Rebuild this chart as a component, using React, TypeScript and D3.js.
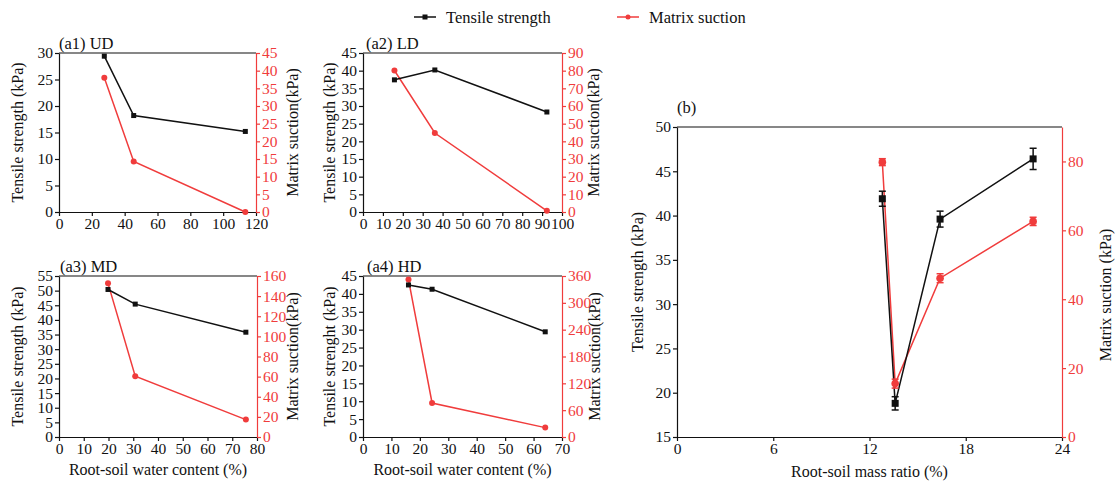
import { useEffect, useRef } from 'react'
import * as d3 from 'd3'

// ── Data ─────────────────────────────────────────────────────────────────────
const a1Water = [27.6, 45.5, 113.5]
const a1Tensile = [29.4, 18.2, 15.2]
const a1Suction = [38, 14.3, 0]

const a2Water = [15.8, 36.1, 92.4]
const a2Tensile = [37.4, 40.2, 28.3]
const a2Suction = [80.1, 44.7, 0.7]

const a3Water = [19.8, 30.8, 75.5]
const a3Tensile = [50.4, 45.4, 35.8]
const a3Suction = [152.7, 60.4, 17.3]

const a4Water = [16.0, 24.3, 64.1]
const a4Tensile = [42.5, 41.3, 29.4]
const a4Suction = [352, 76, 21]

const bRatio = [12.8, 13.6, 16.4, 22.2]
const bTensile = [41.9, 18.8, 39.6, 46.4]
const bTensileErr = [0.85, 0.75, 0.9, 1.2]
const bSuction = [79.8, 15.5, 46.1, 62.6]
const bSuctionErr = [1.0, 1.3, 1.3, 1.2]

const FONT = 'Liberation Serif, DejaVu Serif, serif'
const RED = '#f03c3c'
const BLACK = '#111'

type PanelCfg = {
  label: string
  box: [number, number, number, number] // x0, x1, y0, y1
  xDomain: [number, number]
  xTicks: number[]
  yDomain: [number, number]
  yTicks: number[]
  y2Domain: [number, number]
  y2Ticks: number[]
  xs: number[]
  tensile: number[]
  suction: number[]
  tensileErr?: number[]
  suctionErr?: number[]
  leftTitle: string
  rightTitle: string
  leftTitleX: number
  rightTitleX: number
  rightTitleY?: number
  xTitle?: string
  xTitleY?: number
  labelPos: [number, number]
  big?: boolean
}

const range = (a: number, b: number, s: number) => d3.range(a, b + s / 2, s)

const PANELS: PanelCfg[] = [
  {
    label: '(a1) UD', box: [59, 256, 53, 212],
    xDomain: [0, 120], xTicks: range(0, 120, 20),
    yDomain: [0, 30], yTicks: range(0, 30, 5),
    y2Domain: [0, 45], y2Ticks: range(0, 45, 5),
    xs: a1Water, tensile: a1Tensile, suction: a1Suction,
    leftTitle: 'Tensile strength (kPa)', rightTitle: 'Matrix suction(kPa)',
    leftTitleX: 17.5, rightTitleX: 292, labelPos: [59, 49],
  },
  {
    label: '(a2) LD', box: [363, 562, 53, 212],
    xDomain: [0, 100], xTicks: range(0, 100, 10),
    yDomain: [0, 45], yTicks: range(0, 45, 5),
    y2Domain: [0, 90], y2Ticks: range(0, 90, 10),
    xs: a2Water, tensile: a2Tensile, suction: a2Suction,
    leftTitle: 'Tensile strength (kPa)', rightTitle: 'Matrix suction(kPa)',
    leftTitleX: 329.5, rightTitleX: 593, labelPos: [366, 49],
  },
  {
    label: '(a3) MD', box: [59, 257, 276, 437],
    xDomain: [0, 80], xTicks: range(0, 80, 10),
    yDomain: [0, 55], yTicks: range(0, 55, 5),
    y2Domain: [0, 160], y2Ticks: range(0, 160, 20),
    xs: a3Water, tensile: a3Tensile, suction: a3Suction,
    leftTitle: 'Tensile strength (kPa)', rightTitle: 'Matrix suction(kPa)',
    leftTitleX: 17.5, rightTitleX: 292,
    xTitle: 'Root-soil water content (%)', xTitleY: 475, labelPos: [60, 272],
  },
  {
    label: '(a4) HD', box: [363, 562, 276, 437],
    xDomain: [0, 70], xTicks: range(0, 70, 10),
    yDomain: [0, 45], yTicks: range(0, 45, 5),
    y2Domain: [0, 360], y2Ticks: range(0, 360, 60),
    xs: a4Water, tensile: a4Tensile, suction: a4Suction,
    leftTitle: 'Tensile strenght (kPa)', rightTitle: 'Matrix suction(kPa)',
    leftTitleX: 329.5, rightTitleX: 594,
    xTitle: 'Root-soil water content (%)', xTitleY: 475, labelPos: [367, 272],
  },
  {
    label: '(b)', box: [677, 1062, 127, 437],
    xDomain: [0, 24], xTicks: range(0, 24, 6),
    yDomain: [15, 50], yTicks: range(15, 50, 5),
    y2Domain: [0, 90], y2Ticks: range(0, 80, 20),
    xs: bRatio, tensile: bTensile, suction: bSuction,
    tensileErr: bTensileErr, suctionErr: bSuctionErr,
    leftTitle: 'Tensile strength (kPa)', rightTitle: 'Matrix suction (kPa)',
    leftTitleX: 637, rightTitleX: 1105, rightTitleY: 295,
    xTitle: 'Root-soil mass ratio (%)', xTitleY: 477, labelPos: [677, 113], big: true,
  },
]

function drawPanel(svg: d3.Selection<SVGSVGElement, unknown, null, undefined>, p: PanelCfg) {
  const [x0, x1, y0, y1] = p.box
  const x = d3.scaleLinear().domain(p.xDomain).range([x0, x1])
  const y = d3.scaleLinear().domain(p.yDomain).range([y1, y0])
  const y2 = d3.scaleLinear().domain(p.y2Domain).range([y1, y0])
  const g = svg.append('g')
  const fs = 15.5

  // frame top
  g.append('line').attr('x1', x0).attr('x2', x1).attr('y1', y0).attr('y2', y0)
    .attr('stroke', BLACK).attr('stroke-width', 1.2)

  const styleAxis = (a: d3.Selection<SVGGElement, unknown, null, undefined>, color: string) => {
    a.attr('font-family', null).attr('font-size', null)
    a.select('.domain').attr('stroke', color).attr('stroke-width', 1.2)
    a.selectAll('line').attr('stroke', color).attr('stroke-width', 1.2)
    a.selectAll('text').attr('fill', color).style('font-size', `${fs}px`).style('font-family', FONT)
  }

  g.append('g').attr('transform', `translate(0,${y1})`)
    .call(d3.axisBottom(x).tickValues(p.xTicks).tickSize(4).tickPadding(2).tickSizeOuter(0).tickFormat(d3.format('d')))
    .call((a) => styleAxis(a, BLACK))
  g.append('g').attr('transform', `translate(${x0},0)`)
    .call(d3.axisLeft(y).tickValues(p.yTicks).tickSize(4).tickPadding(2).tickSizeOuter(0).tickFormat(d3.format('d')))
    .call((a) => styleAxis(a, BLACK))
  g.append('g').attr('transform', `translate(${x1},0)`)
    .call(d3.axisRight(y2).tickValues(p.y2Ticks).tickSize(4).tickPadding(2).tickSizeOuter(0).tickFormat(d3.format('d')))
    .call((a) => styleAxis(a, RED))

  // titles
  const cy = (y0 + y1) / 2
  g.append('text').attr('transform', `translate(${p.leftTitleX},${cy}) rotate(-90)`)
    .attr('text-anchor', 'middle').attr('dominant-baseline', 'central')
    .style('font-family', FONT).style('font-size', '16px').attr('fill', BLACK).text(p.leftTitle)
  g.append('text').attr('transform', `translate(${p.rightTitleX},${p.rightTitleY ?? cy}) rotate(-90)`)
    .attr('text-anchor', 'middle').attr('dominant-baseline', 'central')
    .style('font-family', FONT).style('font-size', '16px').attr('fill', BLACK).text(p.rightTitle)
  if (p.xTitle) {
    g.append('text').attr('x', (x0 + x1) / 2).attr('y', p.xTitleY!)
      .attr('text-anchor', 'middle').style('font-family', FONT).style('font-size', '16px')
      .attr('fill', BLACK).text(p.xTitle)
  }
  g.append('text').attr('x', p.labelPos[0]).attr('y', p.labelPos[1])
    .style('font-family', FONT).style('font-size', '16.5px').attr('fill', BLACK).text(p.label)

  const idx = d3.range(p.xs.length)
  const lw = 1.5
  const sq = p.big ? 7 : 5
  const cr = p.big ? 3.8 : 3

  const lineR = d3.line<number>().x((i) => x(p.xs[i])).y((i) => y2(p.suction[i]))
  const lineB = d3.line<number>().x((i) => x(p.xs[i])).y((i) => y(p.tensile[i]))

  g.append('path').attr('d', lineR(idx)).attr('fill', 'none').attr('stroke', RED).attr('stroke-width', lw)
  g.append('path').attr('d', lineB(idx)).attr('fill', 'none').attr('stroke', BLACK).attr('stroke-width', lw)

  const errBar = (sx: number, top: number, bot: number, color: string) => {
    g.append('line').attr('x1', sx).attr('x2', sx).attr('y1', top).attr('y2', bot)
      .attr('stroke', color).attr('stroke-width', 1.5)
    for (const yy of [top, bot]) {
      g.append('line').attr('x1', sx - 3.5).attr('x2', sx + 3.5).attr('y1', yy).attr('y2', yy)
        .attr('stroke', color).attr('stroke-width', 1.5)
    }
  }
  if (p.suctionErr) {
    idx.forEach((i) => errBar(x(p.xs[i]), y2(p.suction[i] + p.suctionErr![i]), y2(p.suction[i] - p.suctionErr![i]), RED))
  }
  if (p.tensileErr) {
    idx.forEach((i) => errBar(x(p.xs[i]), y(p.tensile[i] + p.tensileErr![i]), y(p.tensile[i] - p.tensileErr![i]), BLACK))
  }

  g.selectAll('.pt-r').data(idx).join('circle')
    .attr('cx', (i) => x(p.xs[i])).attr('cy', (i) => y2(p.suction[i])).attr('r', cr).attr('fill', RED)
  g.selectAll('.pt-b').data(idx).join('rect')
    .attr('x', (i) => x(p.xs[i]) - sq / 2).attr('y', (i) => y(p.tensile[i]) - sq / 2)
    .attr('width', sq).attr('height', sq).attr('fill', BLACK)
}

export default function App() {
  const svgRef = useRef<SVGSVGElement>(null)

  useEffect(() => {
    if (!svgRef.current) return
    const svg = d3.select(svgRef.current)
    svg.selectAll('*').remove()

    // legend
    const legend = [
      { name: 'Tensile strength', color: BLACK, shape: 'rect', x: 414 },
      { name: 'Matrix suction', color: RED, shape: 'circle', x: 617 },
    ]
    legend.forEach((l) => {
      const lg = svg.append('g')
      lg.append('line').attr('x1', l.x).attr('x2', l.x + 22).attr('y1', 17).attr('y2', 17)
        .attr('stroke', l.color).attr('stroke-width', 1.5)
      if (l.shape === 'rect') {
        lg.append('rect').attr('x', l.x + 8.5).attr('y', 14.5).attr('width', 5).attr('height', 5).attr('fill', l.color)
      } else {
        lg.append('circle').attr('cx', l.x + 11).attr('cy', 17).attr('r', 2.5).attr('fill', l.color)
      }
      lg.append('text').attr('x', l.x + 32).attr('y', 22.5)
        .style('font-family', FONT).style('font-size', '16.5px').attr('fill', BLACK).text(l.name)
    })

    PANELS.forEach((p) => drawPanel(svg, p))
  }, [])

  return (
    <div style={{ position: 'absolute', left: 0, top: 0, width: 1118, height: 484, background: '#fff', fontFamily: FONT }}>
      <svg ref={svgRef} width={1118} height={484} style={{ display: 'block', fontFamily: FONT }} />
    </div>
  )
}
